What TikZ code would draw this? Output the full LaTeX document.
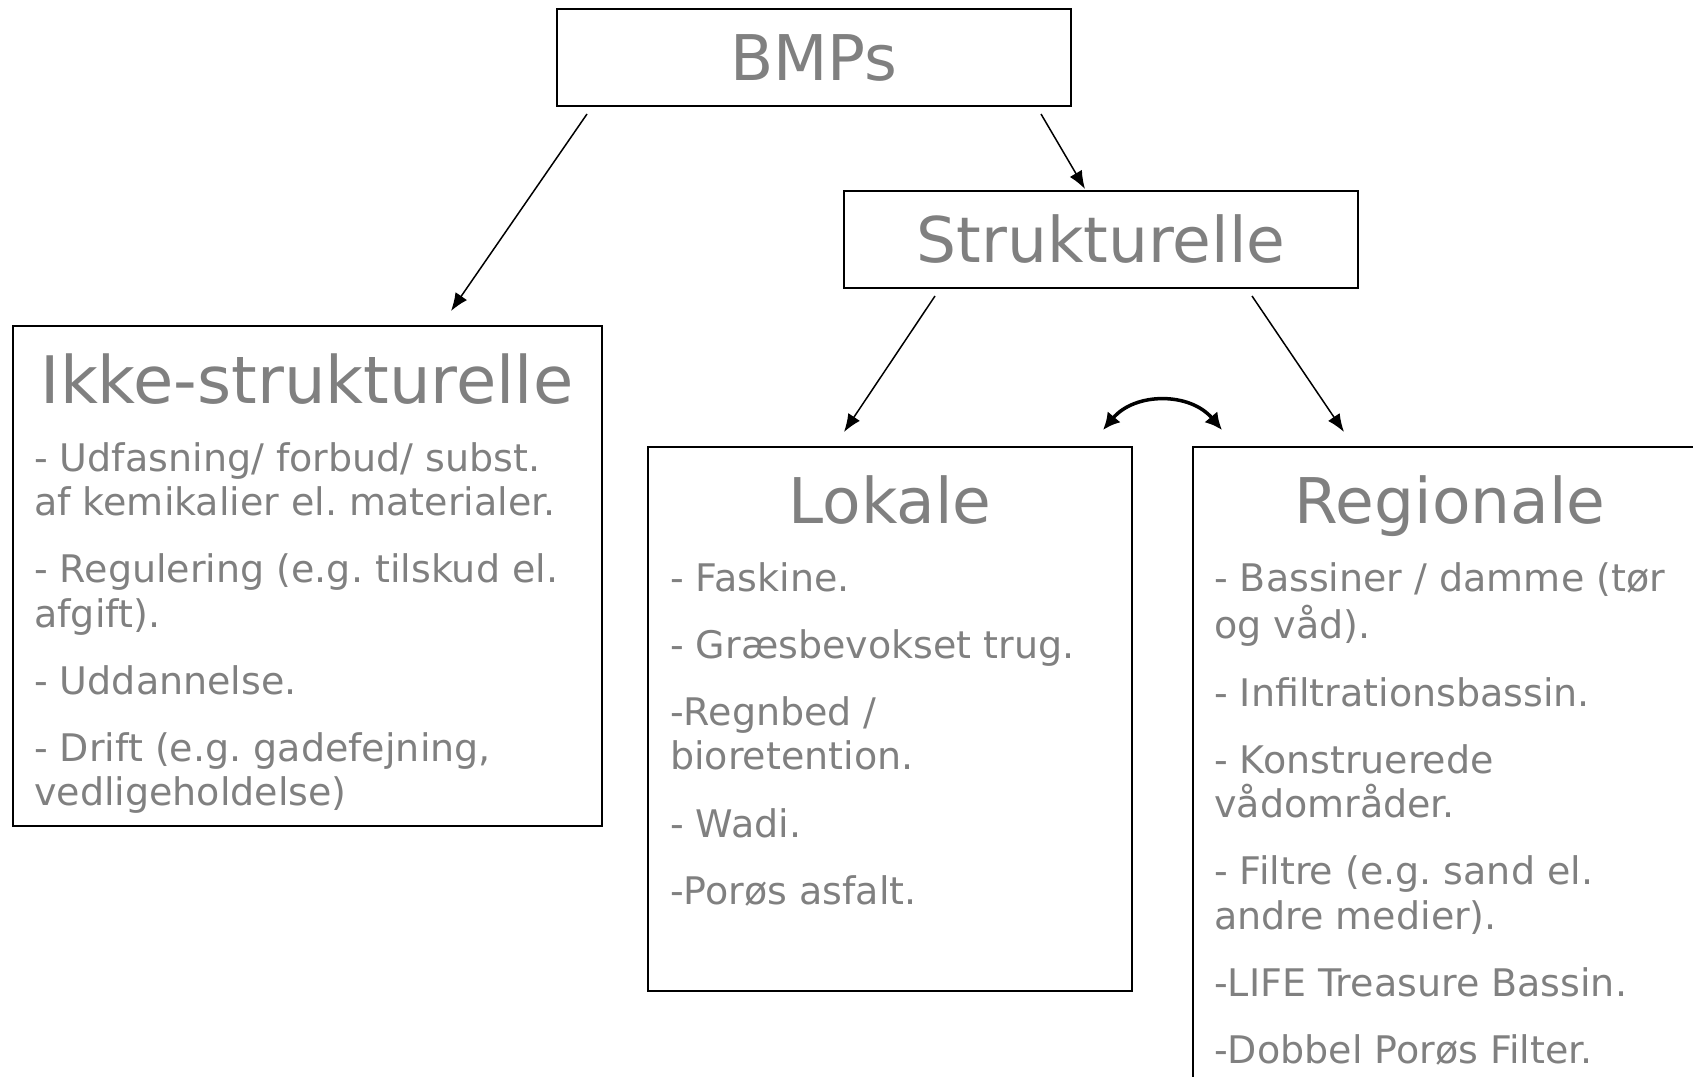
\documentclass[tikz,border=0pt]{standalone}
\usepackage{fontspec}
\setmainfont{DejaVu Sans}
\usetikzlibrary{arrows.meta,calc}
\definecolor{txt}{HTML}{808080}
\tikzset{
  box/.style={draw=black, line width=2pt, inner sep=0pt, outer sep=0pt, anchor=north west},
  head/.style={text=txt, inner sep=0pt, font=\fontsize{63}{70}\selectfont},
  body/.style={text=txt, inner sep=0pt, anchor=north west, align=left, font=\fontsize{38}{44.3}\selectfont},
  arr/.style={-{Latex[length=18pt,width=14pt]}, line width=1.5pt},
  dbl/.style={{Latex[length=17pt,width=17pt]}-{Latex[length=17pt,width=17pt]}, line width=3.5pt}
}
\newcommand{\psep}{\\[22.9pt]}
\frenchspacing
\begin{document}
\begin{tikzpicture}[x=1pt,y=-1pt]
\useasboundingbox (0,0) rectangle (1693,1076);
\clip (0,0) rectangle (1693,1076);
% boxes
\node[box, minimum width=514pt, minimum height=97pt, text=txt, font=\fontsize{63}{70}\selectfont] (bmp) at (557,9) {\raisebox{-3pt}{BMPs}};
\node[box, minimum width=514pt, minimum height=97pt, text=txt, font=\fontsize{63}{70}\selectfont] (strukt) at (844,191) {Strukturelle};
\node[box, minimum width=589pt, minimum height=500pt] (ikke) at (13,326) {};
\node[box, minimum width=484pt, minimum height=544pt] (lokale) at (648,447) {};
\node[box, minimum width=514pt, minimum height=700pt] (regional) at (1193,447) {};
% headings
\node[head, anchor=base, font=\fontsize{65.5}{72}\selectfont] (ikkeT) at (307,403) {Ikke-strukturelle};
\node[head, anchor=base] (lokaleT) at (890,523) {Lokale};
\node[head, anchor=base] (regionalT) at (1450,523) {Regionale};
% bodies
\node[body] (ikkeB) at (34,440) {\strut- Udfasning/ forbud/ subst.\\
af kemikalier el. materialer.\psep
- Regulering (e.g. tilskud el.\\
afgift).\psep
- Uddannelse.\psep
- Drift (e.g. gadefejning,\\
vedligeholdelse)};
\node[body] (lokaleB) at (670,560) {\strut- Faskine.\psep
- Græsbevokset trug.\psep
-Regnbed /\\
bioretention.\psep
- Wadi.\psep
-Porøs asfalt.};
\node[body] (regionalB) at (1214,560) {\strut- Bassiner / damme (tør\\
og våd).\psep
- Infiltrationsbassin.\psep
- Konstruerede\\
vådområder.\psep
- Filtre (e.g. sand el.\\
andre medier).\psep
-LIFE Treasure Bassin.\psep
-Dobbel Porøs Filter.};
% connectors
\draw[arr] ([shift={(30,8)}]bmp.south west) -- ([shift={(-151,-15)}]ikke.north east);
\draw[arr] ([shift={(-30,8)}]bmp.south east) -- ([shift={(241,-2)}]strukt.north west);
\draw[arr] ([shift={(91,8)}]strukt.south west) -- ([shift={(196,-15)}]lokale.north west);
\draw[arr] ([shift={(-106,8)}]strukt.south east) -- ([shift={(151,-15)}]regional.north west);
\draw[dbl] ([shift={(-29,-17)}]lokale.north east) .. controls +(32,-38) and +(-32,-38) .. ([shift={(29,-17)}]regional.north west);
\end{tikzpicture}
\end{document}
